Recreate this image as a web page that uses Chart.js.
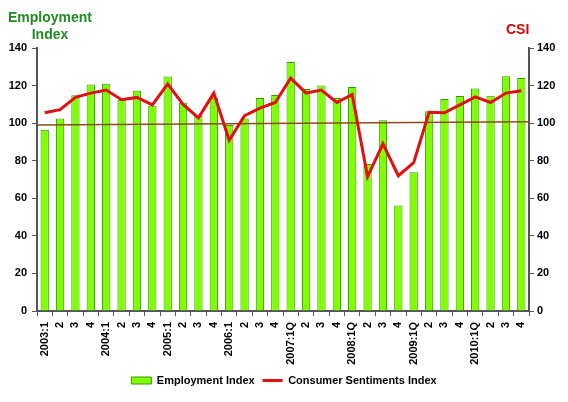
<!DOCTYPE html>
<html lang="en">
<head>
    <meta charset="UTF-8">
    <title>Employment Index vs CSI</title>
    <script src="https://cdn.jsdelivr.net/npm/chart.js"></script>
    <style>
        body { margin: 0; background: #fff; font-family: "Liberation Sans", Arial, sans-serif; }
        #wrap { position: relative; width: 568px; height: 402px; }
        .axis-title { position: absolute; font-weight: bold; font-size: 14px; line-height: 17px; text-align: center; }
        #left-title { left: 4px; top: 9px; width: 92px; color: #228b22; }
        #right-title { left: 506px; top: 21px; color: #e00000; }
    </style>
</head>
<body>
    <div id="wrap">
        <canvas id="chart" width="568" height="402"></canvas>
        <div class="axis-title" id="left-title">Employment<br>Index</div>
        <div class="axis-title" id="right-title">CSI</div>
    </div>

    <script>
        // Quarter labels, 2003:1 .. 2010:4
        const quarters = [
            '2003:1', '2', '3', '4',
            '2004:1', '2', '3', '4',
            '2005:1', '2', '3', '4',
            '2006:1', '2', '3', '4',
            '2007:1Q', '2', '3', '4',
            '2008:1Q', '2', '3', '4',
            '2009:1Q', '2', '3', '4',
            '2010:1Q', '2', '3', '4'
        ];

        // Employment Index (bars)
        const employment = [
            96.5, 102.5, 114.8, 120.6,
            121, 112.5, 117.3, 109.2,
            124.8, 110.8, 104, 113.5,
            99, 102.5, 113.4, 115,
            132.6, 118.2, 120.1, 113.4,
            119.2, 78.3, 101.6, 56.2,
            73.8, 106.3, 112.8, 114.4,
            118.5, 114.6, 125, 124
        ];

        // Consumer Sentiments Index (red line)
        const csi = [
            105.5, 107.2, 113.7, 116,
            117.6, 112.5, 113.7, 109.7,
            120.8, 110, 102.8, 116,
            90.9, 104, 108, 111,
            124, 116, 117.6, 111,
            115.2, 71.5, 89, 72,
            79, 105.8, 105.5, 109.7,
            114, 111, 116, 117.3
        ];

        // Trend line across the plot (start, end)
        const trendLine = [99, 100.8];

        const yTicks = { min: 0, max: 140, step: 20 };

        const axisColor = '#555555';
        const tickFont = { family: 'Liberation Sans', size: 11, weight: 'bold' };

        const ctx = document.getElementById('chart').getContext('2d');
        new Chart(ctx, {
            type: 'bar',
            data: {
                labels: quarters,
                datasets: [
                    {
                        type: 'bar',
                        label: 'Employment Index',
                        data: employment,
                        backgroundColor: '#80ff00',
                        borderColor: '#339900',
                        borderWidth: 1,
                        grouped: false,
                        barPercentage: 0.54,
                        categoryPercentage: 1,
                        pointStyle: 'rect',
                        yAxisID: 'y',
                        order: 2
                    },
                    {
                        type: 'line',
                        label: 'Consumer Sentiments Index',
                        data: csi,
                        borderColor: '#e01010',
                        backgroundColor: '#e01010',
                        borderWidth: 3,
                        pointRadius: 0,
                        tension: 0,
                        pointStyle: 'line',
                        yAxisID: 'y2',
                        order: 0
                    },
                    {
                        // flat trend line, spans the whole plot width
                        type: 'line',
                        label: 'trend',
                        data: [{ x: 0, y: trendLine[0] }, { x: 1, y: trendLine[1] }],
                        borderColor: '#8b4a1a',
                        borderWidth: 1.5,
                        pointRadius: 0,
                        xAxisID: 'xt',
                        yAxisID: 'y',
                        order: 1
                    }
                ]
            },
            options: {
                responsive: false,
                animation: false,
                layout: { padding: { top: 48, left: 0, right: 0, bottom: 6 } },
                scales: {
                    x: {
                        grid: { display: true, drawOnChartArea: false, offset: true, color: axisColor, tickLength: 5 },
                        border: { color: axisColor, width: 2 },
                        ticks: { color: '#000', font: tickFont, maxRotation: 90, minRotation: 90, autoSkip: false, padding: 6 },
                        afterFit: (s) => { s.height = 56; }
                    },
                    xt: {
                        type: 'linear', display: false, min: 0, max: 1,
                        offset: false, grid: { offset: false }
                    },
                    y: {
                        position: 'left',
                        min: yTicks.min, max: yTicks.max,
                        grid: { display: true, drawOnChartArea: false, color: axisColor, tickLength: 5 },
                        border: { color: axisColor, width: 2 },
                        ticks: { stepSize: yTicks.step, color: '#000', font: tickFont, padding: 5 },
                        afterFit: (s) => { s.width = 37; }
                    },
                    y2: {
                        position: 'right',
                        min: yTicks.min, max: yTicks.max,
                        grid: { display: true, drawOnChartArea: false, color: axisColor, tickLength: 5 },
                        border: { color: axisColor, width: 2 },
                        ticks: { stepSize: yTicks.step, color: '#000', font: tickFont, padding: 3 },
                        afterFit: (s) => { s.width = 39; }
                    }
                },
                plugins: {
                    tooltip: { enabled: false },
                    legend: {
                        position: 'bottom',
                        labels: {
                            usePointStyle: true,
                            pointStyleWidth: 20,
                            boxHeight: 7,
                            padding: 8,
                            color: '#000',
                            font: { family: 'Liberation Sans', size: 11, weight: 'bold' },
                            filter: (item) => item.text !== 'trend',
                            sort: (a, b) => a.datasetIndex - b.datasetIndex
                        }
                    }
                }
            }
        });
    </script>
</body>
</html>
